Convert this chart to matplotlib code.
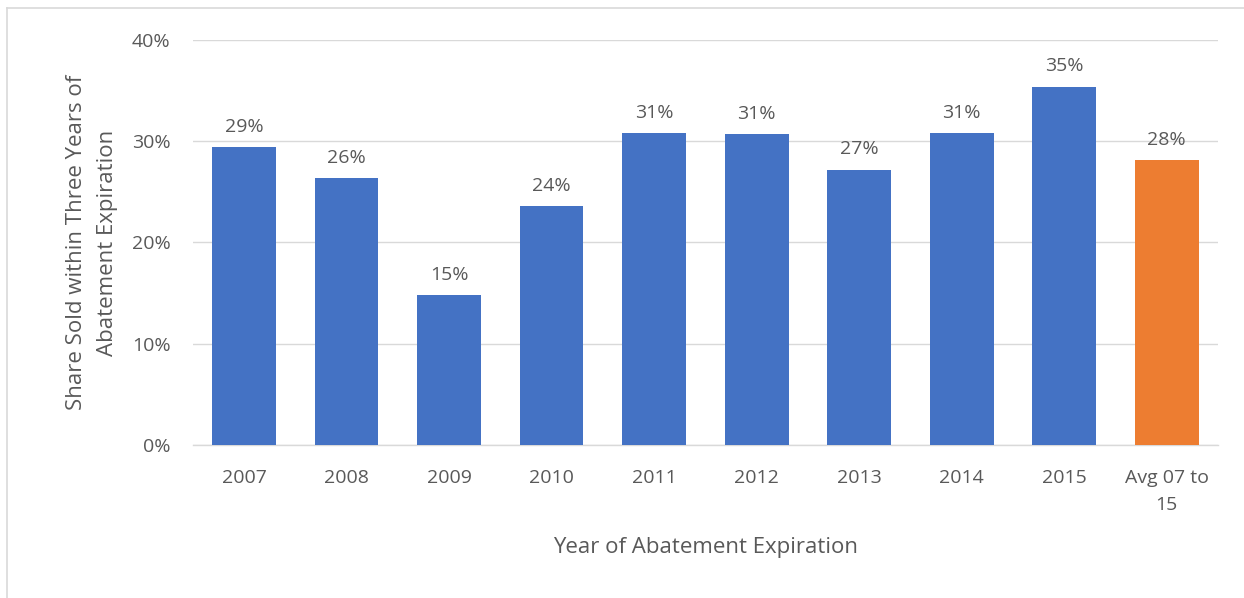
import numpy as np
import matplotlib.pyplot as plt
from matplotlib.lines import Line2D

# Data
categories = ['2007', '2008', '2009', '2010', '2011', '2012', '2013', '2014', '2015', 'Avg 07 to\n15']
shares = [0.294, 0.264, 0.148, 0.236, 0.308, 0.307, 0.272, 0.308, 0.354, 0.281]
labels = ['29%', '26%', '15%', '24%', '31%', '31%', '27%', '31%', '35%', '28%']

BLUE = '#4472C4'
ORANGE = '#ED7D31'
TEXT = '#595959'
GRID = '#D9D9D9'

plt.rcParams['font.family'] = ['Open Sans', 'DejaVu Sans']

fig = plt.figure(figsize=(12.44, 5.98), dpi=100)
ax = fig.add_axes([0.1551, 0.2559, 0.8240, 0.6772])

x = np.arange(len(categories))
colors = [BLUE] * (len(categories) - 1) + [ORANGE]
bars = ax.bar(x, shares, width=0.62, color=colors, zorder=3)

for b, lab in zip(bars, labels):
    ax.annotate(lab, (b.get_x() + b.get_width() / 2, b.get_height()),
                xytext=(0, 8), textcoords='offset points',
                ha='center', va='bottom', fontsize=14, color=TEXT)

ax.set_xlim(-0.5, len(categories) - 0.5)
ax.set_ylim(0, 0.40)
ax.set_yticks([0, 0.1, 0.2, 0.3, 0.4])
ax.set_yticklabels(['0%', '10%', '20%', '30%', '40%'])
ax.set_xticks(x)
ax.set_xticklabels(categories, linespacing=1.65)
ax.tick_params(axis='both', length=0, labelsize=14, colors=TEXT)
ax.tick_params(axis='x', pad=17)
ax.tick_params(axis='y', pad=16)

ax.grid(axis='y', color=GRID, linewidth=1, zorder=0)
for s in ['top', 'right', 'left']:
    ax.spines[s].set_visible(False)
ax.spines['bottom'].set_color(GRID)
ax.spines['bottom'].set_linewidth(1)

ax.set_xlabel('Year of Abatement Expiration', fontsize=16, color=TEXT, labelpad=17)
ax.set_ylabel('Share Sold within Three Years of\nAbatement Expiration', fontsize=16, color=TEXT,
              labelpad=10, linespacing=1.6)

# light outer frame (left and top edges visible)
fig.add_artist(Line2D([7 / 1244, 7 / 1244], [0, 1 - 8 / 598], transform=fig.transFigure,
                      color='#D9D9D9', linewidth=1.2))
fig.add_artist(Line2D([7 / 1244, 1], [1 - 8 / 598, 1 - 8 / 598], transform=fig.transFigure,
                      color='#D9D9D9', linewidth=1.2))

fig.savefig('out.png', dpi=100)
